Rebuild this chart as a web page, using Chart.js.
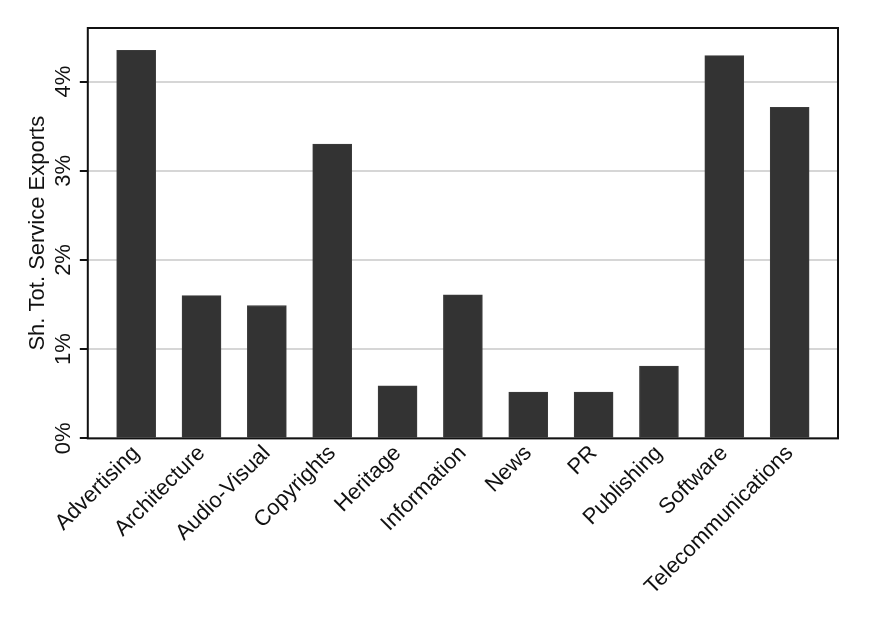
<!DOCTYPE html>
<html>
<head>
<meta charset="utf-8">
<script src="https://cdn.jsdelivr.net/npm/chart.js@4.4.1/dist/chart.umd.min.js"></script>
<style>
  html, body { margin: 0; padding: 0; background: #fff; }
  #wrap { width: 878px; height: 630px; }
</style>
</head>
<body>
<div id="wrap"><canvas id="myChart" width="878" height="630"></canvas></div>
<script>
const categories = ['Advertising', 'Architecture', 'Audio-Visual', 'Copyrights', 'Heritage',
  'Information', 'News', 'PR', 'Publishing', 'Software', 'Telecommunications']
const shareExports = [4.35, 1.6, 1.49, 3.3, 0.59, 1.61, 0.52, 0.52, 0.81, 4.29, 3.71]
const yTicks = [0, 1, 2, 3, 4]

const FONT = 'Liberation Sans, Arial, Helvetica, sans-serif'

// black frame round the plot area
const frame = {
  id: 'frame',
  afterDraw(chart) {
    const { ctx, chartArea: a } = chart
    ctx.save()
    ctx.strokeStyle = '#111'
    ctx.lineWidth = 2
    ctx.strokeRect(a.left, a.top, a.right - a.left, a.bottom - a.top)
    ctx.restore()
  },
}

const ctx = document.getElementById('myChart')
new Chart(ctx, {
  type: 'bar',
  data: {
    datasets: [
      {
        data: shareExports.map((v, i) => ({ x: i, y: v })),
        backgroundColor: '#333333',
        borderColor: '#3c3c3c',
        borderWidth: 1,
        barThickness: 39,
      },
    ],
  },
  options: {
    responsive: false,
    animation: false,
    layout: { padding: { top: 28, right: 40, bottom: 28, left: 25 } },
    plugins: { legend: { display: false }, tooltip: { enabled: false } },
    scales: {
      x: {
        type: 'linear',
        min: -0.74,
        max: 10.74,
        offset: false,
        grid: { display: false, drawTicks: false },
        border: { display: false },
        ticks: {
          stepSize: 1,
          includeBounds: false,
          autoSkip: false,
          minRotation: 45,
          maxRotation: 45,
          padding: 2,
          color: '#111',
          font: { family: FONT, size: 22 },
          callback: (v) => (Number.isInteger(v) ? categories[v] : ''),
        },
      },
      y: {
        min: 0,
        max: 4.6,
        afterBuildTicks: (scale) => {
          scale.ticks = yTicks.map((v) => ({ value: v }))
        },
        grid: {
          color: '#d6d6d6',
          lineWidth: 2,
          tickColor: '#111',
          tickLength: 8,
        },
        border: { display: false },
        ticks: {
          minRotation: 90,
          maxRotation: 90,
          crossAlign: 'center',
          padding: 0,
          color: '#111',
          font: { family: FONT, size: 22 },
          callback: (v) => v + '%',
        },
        title: {
          display: true,
          text: 'Sh. Tot. Service Exports',
          color: '#111',
          padding: { top: 0, bottom: 2 },
          font: { family: FONT, size: 22 },
        },
      },
    },
  },
  plugins: [frame],
})
</script>
</body>
</html>
